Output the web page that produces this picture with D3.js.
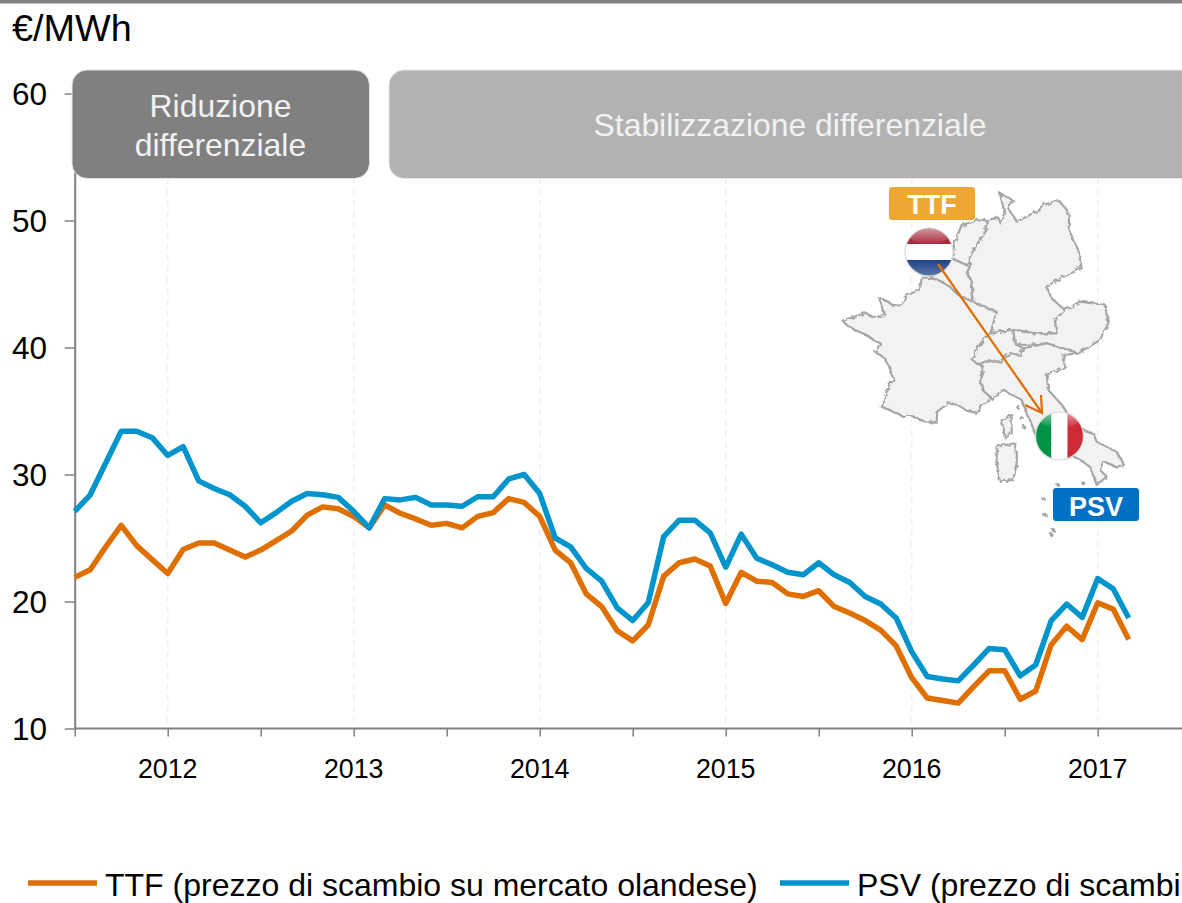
<!DOCTYPE html>
<html>
<head>
<meta charset="utf-8">
<script src="https://cdn.jsdelivr.net/npm/d3@7"></script>
<style>
  html, body { margin: 0; padding: 0; background: #fff; overflow: hidden; }
  svg { display: block; }
  text { font-family: "Liberation Sans", Arial, sans-serif; }
</style>
</head>
<body>
<svg id="chart" width="1182" height="903"></svg>
<script>
// --- data ---
const months = [
  '2011-07','2011-08','2011-09','2011-10','2011-11','2011-12',
  '2012-01','2012-02','2012-03','2012-04','2012-05','2012-06','2012-07','2012-08','2012-09','2012-10','2012-11','2012-12',
  '2013-01','2013-02','2013-03','2013-04','2013-05','2013-06','2013-07','2013-08','2013-09','2013-10','2013-11','2013-12',
  '2014-01','2014-02','2014-03','2014-04','2014-05','2014-06','2014-07','2014-08','2014-09','2014-10','2014-11','2014-12',
  '2015-01','2015-02','2015-03','2015-04','2015-05','2015-06','2015-07','2015-08','2015-09','2015-10','2015-11','2015-12',
  '2016-01','2016-02','2016-03','2016-04','2016-05','2016-06','2016-07','2016-08','2016-09','2016-10','2016-11','2016-12',
  '2017-01','2017-02','2017-03'
];
const ttf = [
  21.9,22.5,24.3,26.0,24.4,23.3,
  22.2,24.1,24.6,24.6,24.05,23.5,24.05,24.8,25.55,26.8,27.45,27.3,
  26.7,25.8,27.6,26.95,26.5,26.0,26.15,25.8,26.7,27.0,28.1,27.8,
  26.7,24.05,23.05,20.6,19.6,17.7,16.9,18.15,22.0,23.05,23.35,22.8,
  19.85,22.3,21.6,21.5,20.6,20.4,20.85,19.6,19.1,18.5,17.75,16.5,
  14.0,12.4,12.2,12.0,13.3,14.55,14.55,12.3,12.95,16.6,18.05,17.0,
  19.9,19.4,17.0
];
const psv = [
  27.1,28.4,30.9,33.4,33.4,32.9,
  31.5,32.2,29.5,28.9,28.4,27.5,26.2,27.0,27.9,28.5,28.4,28.2,
  27.1,25.8,28.1,28.0,28.2,27.6,27.6,27.5,28.25,28.25,29.65,30.0,
  28.5,25.0,24.3,22.6,21.6,19.5,18.5,19.9,25.1,26.4,26.4,25.4,
  22.7,25.3,23.4,22.9,22.3,22.1,23.05,22.1,21.5,20.4,19.8,18.7,
  16.05,14.1,13.9,13.75,15.0,16.3,16.2,14.15,15.0,18.5,19.8,18.75,
  21.8,21.0,18.7
];
const yTicks = [10, 20, 30, 40, 50, 60];
const legendLabels = ['TTF (prezzo di scambio su mercato olandese)', 'PSV (prezzo di scambi'];

const mapShapes = [
  // France
  [[275,320],[272,350],[255,365],[225,380],[218,405],[190,408],[175,395],[150,385],[158,420],[165,435],[130,440],[105,430],[75,440],[38,452],[55,470],[75,480],[110,495],[130,510],[152,520],[135,545],[165,565],[178,590],[190,630],[175,650],[165,680],[155,712],[185,722],[215,738],[245,738],[285,755],[320,755],[322,725],[355,700],[385,705],[410,722],[435,728],[460,705],[485,685],[458,660],[450,625],[462,590],[425,567],[440,540],[462,505],[482,490],[500,425],[465,410],[430,395],[385,375],[360,350],[325,330]],
  // Netherlands
  [[365,265],[375,215],[395,165],[440,152],[470,150],[470,180],[440,225],[420,260],[420,290]],
  // Belgium
  [[365,265],[420,290],[410,310],[425,330],[430,395],[385,375],[360,350],[325,330],[300,320]],
  // Germany
  [[470,150],[505,143],[512,160],[525,135],[510,70],[530,80],[550,92],[535,115],[560,155],[610,130],[640,105],[685,90],[715,125],[720,190],[745,240],[755,295],[700,320],[650,350],[665,385],[705,420],[675,450],[680,490],[610,490],[550,478],[482,490],[500,425],[465,410],[430,395],[425,330],[410,310],[420,290],[420,260],[440,225],[470,180]],
  // Switzerland
  [[482,490],[550,478],[555,520],[580,535],[570,555],[540,550],[510,575],[465,575],[445,585],[425,567],[440,540],[462,505]],
  // Austria
  [[550,478],[610,490],[680,490],[675,450],[705,420],[750,395],[825,405],[835,460],[810,510],[745,550],[650,520],[580,525],[555,520]],
  // Italy
  [[445,585],[465,575],[510,575],[540,550],[570,555],[580,535],[650,520],[745,550],[700,555],[705,595],[650,610],[655,660],[700,710],[730,770],[790,790],[800,815],[860,845],[882,885],[860,890],[820,875],[810,900],[830,920],[800,945],[780,890],[750,870],[620,800],[575,690],[520,660],[485,685],[458,660],[450,625],[462,590]],
  // Corsica
  [[515,750],[545,735],[545,790],[525,805]],
  // Sardinia
  [[500,830],[555,820],[560,880],[550,930],[510,935],[500,880]]
];
const mapDots = [[565,712],[575,745],[580,770],[640,985],[645,1035],[670,1080],[665,1095],[685,945],[760,940]];

// --- layout ---
const svg = d3.select('#chart');

const x = d3.scalePoint().domain(months).range([74.7, 1128.7]);
const y = d3.scaleLinear().domain([10, 60]).range([728.5, 93.5]);

const defs = svg.append('defs');
function sheen(id, top, bottom) {
  const g = defs.append('linearGradient').attr('id', id).attr('x1', 0).attr('x2', 0).attr('y1', 0).attr('y2', 1);
  g.append('stop').attr('offset', '0').attr('stop-color', top);
  g.append('stop').attr('offset', '1').attr('stop-color', bottom);
}
sheen('nlBlue', '#1f4288', '#5a77a8');
sheen('gloss', 'rgba(255,255,255,0.5)', 'rgba(255,255,255,0.02)');

// wobbles the map strokes so the coastlines are not ruler straight
const rough = defs.append('filter').attr('id', 'rough').attr('x', '-5%').attr('y', '-5%').attr('width', '110%').attr('height', '110%');
rough.append('feTurbulence').attr('type', 'fractalNoise').attr('baseFrequency', 0.06).attr('numOctaves', 2).attr('seed', 3).attr('result', 'n');
rough.append('feDisplacementMap').attr('in', 'SourceGraphic').attr('in2', 'n').attr('scale', 14);

function label(sel, px, py, str, size, fill, anchor) {
  return sel.append('text')
    .attr('x', px).attr('y', py)
    .attr('text-anchor', anchor || 'start')
    .attr('font-size', size)
    .attr('fill', fill)
    .text(str);
}

// top rule
svg.append('rect').attr('x', 0).attr('y', 0).attr('width', 1182).attr('height', 3.5).attr('fill', '#808080');

label(svg, 12, 41, '€/MWh', 37.8, '#000');

// --- grid, yearly ---
const januaries = months.filter(m => m.endsWith('-01'));
svg.append('g').selectAll('line').data(januaries).join('line')
  .attr('x1', d => x(d)).attr('x2', d => x(d))
  .attr('y1', 178).attr('y2', 728.5)
  .attr('stroke', '#efefef').attr('stroke-width', 1.5).attr('stroke-dasharray', '6,5');

// --- axes ---
const halfYears = months.filter(m => m.endsWith('-01') || m.endsWith('-07'));
const xAxis = svg.append('g').attr('transform', 'translate(0,728.5)')
  .call(d3.axisBottom(x).tickValues(halfYears).tickSize(8).tickSizeOuter(0).tickFormat(() => ''));
xAxis.select('.domain').remove();
xAxis.selectAll('line').attr('stroke', '#808080').attr('stroke-width', 1.5);
svg.append('line').attr('x1', 74.7).attr('x2', 1182).attr('y1', 728.5).attr('y2', 728.5)
  .attr('stroke', '#808080').attr('stroke-width', 2);

januaries.forEach(m => label(svg, x(m), 778, m.slice(0, 4), 26.8, '#000', 'middle'));

const yAxis = svg.append('g').attr('transform', 'translate(74.7,0)')
  .call(d3.axisLeft(y).tickValues(yTicks).tickSize(10).tickSizeOuter(0).tickFormat(() => ''));
yAxis.select('.domain').attr('stroke', '#808080').attr('stroke-width', 2);
yAxis.selectAll('line').attr('stroke', '#808080').attr('stroke-width', 1.5);

yTicks.forEach(t => label(svg, 47, y(t) + 11, t, 31.5, '#000', 'end'));

// --- phase boxes ---
svg.append('rect').attr('x', 72).attr('y', 70).attr('width', 297.5).attr('height', 108.5).attr('rx', 15)
  .attr('fill', '#808080').attr('stroke', '#e6e6e6').attr('stroke-width', 1);
svg.append('rect').attr('x', 389).attr('y', 70).attr('width', 810).attr('height', 108.5).attr('rx', 15)
  .attr('fill', '#b2b2b2').attr('stroke', '#e6e6e6').attr('stroke-width', 1);
label(svg, 220.5, 117, 'Riduzione', 31.9, '#f2f2f2', 'middle');
label(svg, 220.5, 156, 'differenziale', 31.9, '#f2f2f2', 'middle');
label(svg, 790, 136, 'Stabilizzazione differenziale', 31.9, '#f2f2f2', 'middle');

// --- map inset ---
const map = svg.append('g').attr('transform', 'translate(830,170) scale(0.3333)').attr('filter', 'url(#rough)');
const outline = d3.line().curve(d3.curveLinearClosed);
map.selectAll('path').data(mapShapes).join('path')
  .attr('d', outline)
  .attr('fill', '#f2f2f2').attr('stroke', '#a6a6a6').attr('stroke-width', 6.5).attr('stroke-linejoin', 'round');
map.selectAll('circle').data(mapDots).join('circle')
  .attr('cx', d => d[0]).attr('cy', d => d[1]).attr('r', 6).attr('fill', '#a6a6a6');

// --- series ---
const lineGen = d3.line().x((d, i) => x(months[i])).y(d => y(d));
svg.append('path').datum(ttf).attr('d', lineGen).attr('fill', 'none')
  .attr('stroke', '#df6f00').attr('stroke-width', 5.5).attr('stroke-linejoin', 'round');
svg.append('path').datum(psv).attr('d', lineGen).attr('fill', 'none')
  .attr('stroke', '#0094cc').attr('stroke-width', 5.5).attr('stroke-linejoin', 'round');

// --- flags ---
function flagFrame(id, cx, cy, r) {
  defs.append('clipPath').attr('id', id).append('circle').attr('cx', cx).attr('cy', cy).attr('r', r);
  return svg.append('g').attr('clip-path', `url(#${id})`);
}
function flagFinish(g, cx, cy, r) {
  g.append('ellipse').attr('cx', cx).attr('cy', cy - r * 0.66).attr('rx', r * 0.8).attr('ry', r * 0.32).attr('fill', 'url(#gloss)');
  svg.append('circle').attr('cx', cx).attr('cy', cy).attr('r', r).attr('fill', 'none').attr('stroke', '#dcdcdc').attr('stroke-width', 1.2);
}
function flagNL(cx, cy, r) {
  const g = flagFrame('clipNL', cx, cy, r);
  g.append('rect').attr('x', cx - r).attr('y', cy - r).attr('width', 2 * r).attr('height', 2 * r / 3).attr('fill', '#a82c3c');
  g.append('rect').attr('x', cx - r).attr('y', cy - r / 3).attr('width', 2 * r).attr('height', 2 * r / 3).attr('fill', '#fff');
  g.append('rect').attr('x', cx - r).attr('y', cy + r / 3).attr('width', 2 * r).attr('height', 2 * r / 3).attr('fill', 'url(#nlBlue)');
  flagFinish(g, cx, cy, r);
}
function flagIT(cx, cy, r) {
  const g = flagFrame('clipIT', cx, cy, r);
  g.append('rect').attr('x', cx - r).attr('y', cy - r).attr('width', 2 * r / 3).attr('height', 2 * r).attr('fill', '#009246');
  g.append('rect').attr('x', cx - r / 3).attr('y', cy - r).attr('width', 2 * r / 3).attr('height', 2 * r).attr('fill', '#fff');
  g.append('rect').attr('x', cx + r / 3).attr('y', cy - r).attr('width', 2 * r / 3).attr('height', 2 * r).attr('fill', '#ce2b37');
  flagFinish(g, cx, cy, r);
}
flagNL(929, 252, 24);
flagIT(1059.5, 436, 24);

// arrow from TTF to PSV
svg.append('path').attr('d', 'M938,264L1042,413M1025,405L1042,413L1041,395')
  .attr('fill', 'none').attr('stroke', '#df6f00').attr('stroke-width', 2.2);

// --- hub tags ---
svg.append('rect').attr('x', 889).attr('y', 187).attr('width', 86).attr('height', 33).attr('rx', 3).attr('fill', '#eea733');
svg.append('rect').attr('x', 1053).attr('y', 488).attr('width', 86).attr('height', 33).attr('rx', 3).attr('fill', '#0070c5');
label(svg, 932, 214, 'TTF', 27, '#fff', 'middle').attr('font-weight', 'bold');
label(svg, 1096, 516, 'PSV', 27, '#fff', 'middle').attr('font-weight', 'bold');

// --- legend ---
const legendX = [28, 780];
const legendColors = ['#df6f00', '#0094cc'];
legendLabels.forEach((t, i) => {
  svg.append('line').attr('x1', legendX[i]).attr('x2', legendX[i] + 69).attr('y1', 883).attr('y2', 883)
    .attr('stroke', legendColors[i]).attr('stroke-width', 5.5);
  label(svg, legendX[i] + 77, 896, t, 32, '#000');
});
</script>
</body>
</html>
